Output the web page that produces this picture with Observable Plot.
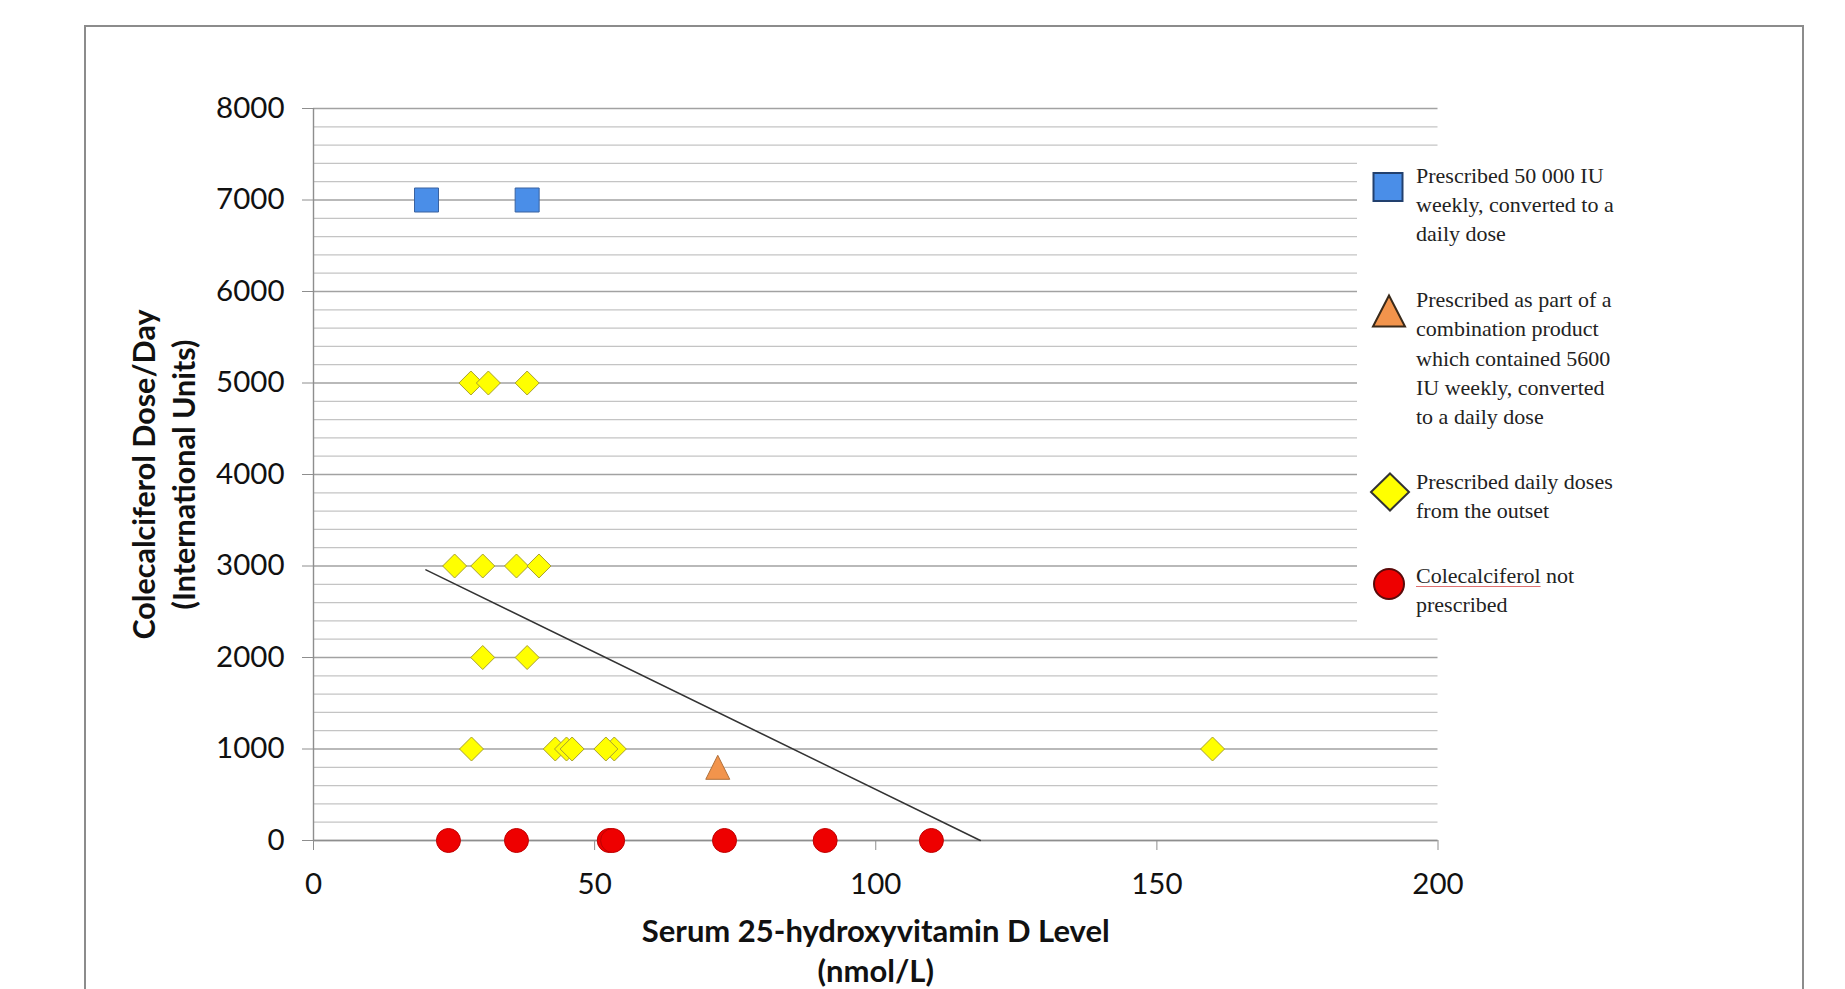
<!DOCTYPE html>
<html>
<head>
<meta charset="utf-8">
<script src="https://cdn.jsdelivr.net/npm/d3@7"></script>
<script src="https://cdn.jsdelivr.net/npm/@observablehq/plot@0.6"></script>
<style>
html, body { margin: 0; padding: 0; background: #fff; overflow: hidden; }
#wrap { position: relative; width: 1845px; height: 989px; overflow: hidden; background: #fff; }
#chart { position: absolute; left: 0; top: 0; }
#frame { position: absolute; left: 84px; top: 25px; width: 1720px; height: 1010px; border: 2.5px solid #8c8c8c; box-sizing: border-box; pointer-events: none; }
#legend { position: absolute; left: 1357px; top: 152px; width: 290px; height: 477px; background: #fff; }
.entry { position: absolute; left: 59px; font-family: "Liberation Serif", "Times New Roman", serif; font-size: 22px; line-height: 29.3px; color: #222; white-space: nowrap; }
.entry div { height: 29.3px; }
.sym { position: absolute; overflow: visible; }
.spell { text-decoration: underline; text-decoration-color: #e07070; text-decoration-thickness: 1px; text-underline-offset: 3px; }
</style>
</head>
<body>
<div id="wrap">
  <div id="frame"></div>
  <div id="chart"></div>
  <div id="legend"></div>
</div>
<script>
// ---- data ----
const squareX = [20.1, 38.0];
const squareY = [7000, 7000];

const triangleX = [71.9];
const triangleY = [800];

const diamondX = [28.0, 31.1, 38.0, 25.1, 30.1, 36.1, 40.1, 30.1, 38.0, 28.1, 43.0, 45.0, 46.0, 53.5, 52.0, 159.9];
const diamondY = [5000, 5000, 5000, 3000, 3000, 3000, 3000, 2000, 2000, 1000, 1000, 1000, 1000, 1000, 1000, 1000];

const circleX = [24.0, 36.1, 52.6, 53.2, 73.1, 91.0, 109.9];
const circleY = [0, 0, 0, 0, 0, 0, 0];

const trendX = [20.0, 118.6];
const trendY = [2958, 0];

const xTicks = [0, 50, 100, 150, 200];
const yTicks = [0, 1000, 2000, 3000, 4000, 5000, 6000, 7000, 8000];
const yMinor = d3.range(0, 8001, 200).filter(v => v % 1000 !== 0);

const xTitle = "Serum 25-hydroxyvitamin D Level\n(nmol/L)";
const yTitle = "Colecalciferol Dose/Day\n(International Units)";

const legendLabels = [
  "Prescribed 50 000 IU\nweekly, converted to a\ndaily dose",
  "Prescribed as part of a\ncombination product\nwhich contained 5600\nIU weekly, converted\nto a daily dose",
  "Prescribed daily doses\nfrom the outset",
  "Colecalciferol not\nprescribed"
];
const legendFills = ["#4a8ee8", "#f2944c", "#ffff00", "#ee0000"];

// ---- build tables ----
const zip = (xs, ys) => xs.map((x, i) => ({x, y: ys[i]}));
const squares = zip(squareX, squareY);
const triangles = zip(triangleX, triangleY);
const diamonds = zip(diamondX, diamondY);
const circles = zip(circleX, circleY);
const trend = zip(trendX, trendY);

const triSym = {draw(ctx, size) { const s = Math.sqrt(size); ctx.moveTo(0, -s / 2); ctx.lineTo(s / 2, s / 2); ctx.lineTo(-s / 2, s / 2); ctx.closePath(); }};
const diaSym = {draw(ctx, size) { const s = Math.sqrt(size); ctx.moveTo(0, -s / 2); ctx.lineTo(s / 2, 0); ctx.lineTo(0, s / 2); ctx.lineTo(-s / 2, 0); ctx.closePath(); }};
const rFor = side => side / Math.sqrt(Math.PI);

const plot = Plot.plot({
  width: 1845,
  height: 989,
  marginLeft: 313,
  marginRight: 407.5,
  marginTop: 108,
  marginBottom: 149,
  x: {domain: [0, 200]},
  y: {domain: [0, 8000]},
  style: {fontFamily: "Lato, sans-serif", background: "transparent", color: "#111", overflow: "visible"},
  marks: [
    Plot.ruleY(yMinor, {stroke: "#c4c4c4", strokeWidth: 1.3}),
    Plot.ruleY(yTicks, {stroke: "#a2a2a2", strokeWidth: 1.4}),
    Plot.ruleX([0], {stroke: "#8e8e8e", strokeWidth: 1.4}),
    Plot.ruleY([0], {stroke: "#8e8e8e", strokeWidth: 1.4}),
    Plot.axisY(yTicks, {tickSize: 11, tickPadding: 18, fontSize: 29.5, stroke: "#8e8e8e", fill: "#111", tickFormat: d => String(d), label: null}),
    Plot.axisX(xTicks, {tickSize: 10, tickPadding: 23, fontSize: 29.5, stroke: "#8e8e8e", fill: "#111", tickFormat: d => String(d), label: null}),
    Plot.line(trend, {x: "x", y: "y", stroke: "#333", strokeWidth: 1.5}),
    Plot.dot(squares, {x: "x", y: "y", symbol: "square", r: rFor(24), fill: "#4a8ee8", stroke: "#3a62a0", strokeWidth: 1}),
    Plot.dot(triangles, {x: "x", y: "y", symbol: triSym, r: rFor(24), fill: "#f2944c", stroke: "#b0703a", strokeWidth: 1}),
    Plot.dot(diamonds, {x: "x", y: "y", symbol: diaSym, r: rFor(24), fill: "#ffff00", stroke: "#a8a030", strokeWidth: 1}),
    Plot.dot(circles, {x: "x", y: "y", symbol: "circle", r: 12, fill: "#ee0000", stroke: "#c00000", strokeWidth: 1}),
    Plot.text([xTitle], {text: d => d, frameAnchor: "bottom", textAnchor: "middle", dy: 109, fontWeight: "bold", fontSize: 31, lineHeight: 1.29, lineAnchor: "middle", fill: "#111"}),
    Plot.text([yTitle], {text: d => d, frameAnchor: "left", textAnchor: "middle", rotate: -90, dx: -151, fontWeight: "bold", fontSize: 30.5, lineHeight: 1.28, lineAnchor: "middle", fill: "#111"})
  ]
});
document.getElementById("chart").appendChild(plot);

// ---- legend ----
const legend = document.getElementById("legend");
const tops = [8.6, 133.2, 315, 409.2];
const symCenters = [[31, 34.7], [32, 158.5], [33, 339.6], [32, 431.5]];
const symShapes = [
  (f) => `<rect x="-14.5" y="-14" width="29" height="28" fill="${f}" stroke="#22406e" stroke-width="2"/>`,
  (f) => `<path d="M0,-15.5L16,15.5L-16,15.5Z" fill="${f}" stroke="#3a2a1a" stroke-width="2"/>`,
  (f) => `<path d="M0,-18.5L19,0L0,18.5L-19,0Z" fill="${f}" stroke="#333" stroke-width="2"/>`,
  (f) => `<circle r="15" fill="${f}" stroke="#5a0a0a" stroke-width="2"/>`
];
legendLabels.forEach((lab, i) => {
  const [cx, cy] = symCenters[i];
  const s = document.createElementNS("http://www.w3.org/2000/svg", "svg");
  s.setAttribute("class", "sym");
  s.setAttribute("width", 44); s.setAttribute("height", 44);
  s.style.left = (cx - 22) + "px"; s.style.top = (cy - 22) + "px";
  s.innerHTML = `<g transform="translate(22,22)">${symShapes[i](legendFills[i])}</g>`;
  legend.appendChild(s);
  const d = document.createElement("div");
  d.className = "entry";
  d.style.top = tops[i] + "px";
  lab.split("\n").forEach((line, j) => {
    const ln = document.createElement("div");
    if (i === 3 && j === 0) {
      const sp = document.createElement("span");
      sp.className = "spell";
      sp.textContent = "Colecalciferol";
      const rest = document.createElement("span");
      rest.textContent = line.slice("Colecalciferol".length);
      rest.style.whiteSpace = "pre";
      ln.appendChild(sp);
      ln.appendChild(rest);
    } else {
      ln.textContent = line;
    }
    d.appendChild(ln);
  });
  legend.appendChild(d);
});
</script>
</body>
</html>
